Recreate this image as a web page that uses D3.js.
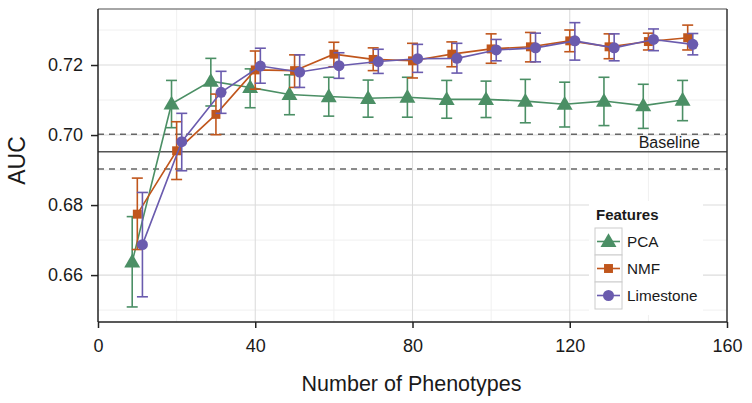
<!DOCTYPE html>
<html><head><meta charset="utf-8">
<script src="https://cdn.jsdelivr.net/npm/d3@7"></script>
<style>body{margin:0;background:#fff}svg{display:block;font-family:"Liberation Sans",Arial,sans-serif}</style>
</head><body><svg id="c" width="752" height="403"></svg>
<script>
const phenotypes = [10,20,30,40,50,60,70,80,90,100,110,120,130,140,150];
const pcaMean  = [0.6638,0.7089,0.7154,0.7136,0.7116,0.7110,0.7105,0.7108,0.7102,0.7102,0.7097,0.7088,0.7097,0.7084,0.7100];
const pcaLo    = [0.6509,0.7021,0.7083,0.7078,0.7058,0.7054,0.7051,0.7051,0.7048,0.7050,0.7035,0.7023,0.7027,0.7019,0.7041];
const pcaHi    = [0.6767,0.7156,0.7219,0.7189,0.7172,0.7165,0.7157,0.7165,0.7156,0.7154,0.7159,0.7151,0.7165,0.7145,0.7156];
const nmfMean  = [0.6774,0.6955,0.7059,0.7186,0.7184,0.7231,0.7216,0.7212,0.7231,0.7246,0.7252,0.7269,0.7252,0.7267,0.7278];
const nmfLo    = [0.6673,0.6873,0.7001,0.7131,0.7136,0.7195,0.7184,0.7163,0.7195,0.7205,0.7209,0.7238,0.7218,0.7243,0.7243];
const nmfHi    = [0.6877,0.7038,0.7117,0.7240,0.7229,0.7265,0.7249,0.7262,0.7266,0.7289,0.7293,0.7300,0.7289,0.7291,0.7314];
const limeMean = [0.6687,0.6981,0.7122,0.7197,0.7180,0.7198,0.7210,0.7218,0.7219,0.7243,0.7249,0.7269,0.7249,0.7273,0.7259];
const limeLo   = [0.6538,0.6898,0.7062,0.7148,0.7136,0.7162,0.7176,0.7179,0.7177,0.7212,0.7209,0.7214,0.7212,0.7241,0.7229];
const limeHi   = [0.6836,0.7062,0.7182,0.7248,0.7229,0.7235,0.7245,0.7259,0.7262,0.7273,0.7291,0.7321,0.7289,0.7303,0.7290];
const baseline = 0.6952, baselineLo = 0.6903, baselineHi = 0.7002;
const xTicks = [0,40,80,120,160];
const yTicks = [0.66,0.68,0.70,0.72];
const seriesNames = ["PCA","NMF","Limestone"];

const series = [
  {name:"PCA", mean:pcaMean, lo:pcaLo, hi:pcaHi, color:"#4b8f65", shape:d3.symbolTriangle, size:110, dodge:-1.3},
  {name:"NMF", mean:nmfMean, lo:nmfLo, hi:nmfHi, color:"#c0561c", shape:d3.symbolSquare, size:80, dodge:0},
  {name:"Limestone", mean:limeMean, lo:limeLo, hi:limeHi, color:"#6a5bae", shape:d3.symbolCircle, size:95, dodge:1.3}
];

const svg = d3.select("#c");
const L=98, R=727, T=9, B=322;
const x = d3.scaleLinear().domain([0,160]).range([L,R]);
const y = d3.scaleLinear().domain([0.6466,0.736]).range([B,T]);

const g = svg.append("g");
// minor grid
[20,60,100,140].forEach(v=>g.append("line").attr("x1",x(v)).attr("x2",x(v)).attr("y1",T).attr("y2",B).attr("stroke","#f0f0f0").attr("stroke-width",1));
[0.65,0.67,0.69,0.71,0.73].forEach(v=>g.append("line").attr("x1",L).attr("x2",R).attr("y1",y(v)).attr("y2",y(v)).attr("stroke","#f0f0f0").attr("stroke-width",1));
// major grid
xTicks.slice(1,-1).forEach(v=>g.append("line").attr("x1",x(v)).attr("x2",x(v)).attr("y1",T).attr("y2",B).attr("stroke","#dcdcdc").attr("stroke-width",1.1));
yTicks.forEach(v=>g.append("line").attr("x1",L).attr("x2",R).attr("y1",y(v)).attr("y2",y(v)).attr("stroke","#dcdcdc").attr("stroke-width",1.1));

// baseline
g.append("line").attr("x1",L).attr("x2",R).attr("y1",y(baseline)).attr("y2",y(baseline)).attr("stroke","#555").attr("stroke-width",1.5);
[baselineLo,baselineHi].forEach(v=>g.append("line").attr("x1",L).attr("x2",R).attr("y1",y(v)).attr("y2",y(v)).attr("stroke","#666").attr("stroke-width",1.5).attr("stroke-dasharray","6,5"));
g.append("text").attr("x",700).attr("y",y(baseline)-3.5).attr("text-anchor","end").attr("font-size",16).attr("fill","#1a1a1a").text("Baseline");

// series
series.forEach(s=>{
  const pts = phenotypes.map((p,i)=>({x:p+s.dodge, m:s.mean[i], lo:s.lo[i], hi:s.hi[i]}));
  const sg = g.append("g");
  sg.append("path").datum(pts).attr("fill","none").attr("stroke",s.color).attr("stroke-width",1.6)
    .attr("d",d3.line().x(d=>x(d.x)).y(d=>y(d.m)));
  pts.forEach(d=>{
    const cx=x(d.x);
    sg.append("line").attr("x1",cx).attr("x2",cx).attr("y1",y(d.lo)).attr("y2",y(d.hi)).attr("stroke",s.color).attr("stroke-width",1.6);
    [d.lo,d.hi].forEach(v=>sg.append("line").attr("x1",cx-5.5).attr("x2",cx+5.5).attr("y1",y(v)).attr("y2",y(v)).attr("stroke",s.color).attr("stroke-width",1.6));
  });
  sg.selectAll("path.m").data(pts).enter().append("path").attr("class","m")
    .attr("transform",d=>`translate(${x(d.x)},${y(d.m)+(s.name==="PCA"?1:0)})`)
    .attr("d",d3.symbol().type(s.shape).size(s.size)).attr("fill",s.color);
});

// panel border
g.append("line").attr("x1",L).attr("x2",R).attr("y1",T).attr("y2",T).attr("stroke","#888").attr("stroke-width",1.5);
g.append("line").attr("x1",R).attr("x2",R).attr("y1",T).attr("y2",B).attr("stroke","#333").attr("stroke-width",1.5);

// axes
const xa = svg.append("g").attr("transform",`translate(0,${B})`)
  .call(d3.axisBottom(x).tickValues(xTicks).tickSize(6).tickPadding(11).tickFormat(d3.format("d")));
const ya = svg.append("g").attr("transform",`translate(${L},0)`)
  .call(d3.axisLeft(y).tickValues(yTicks).tickSize(7).tickPadding(8).tickFormat(d3.format(".2f")));
[xa,ya].forEach(a=>{
  a.select(".domain").attr("stroke","#222").attr("stroke-width",1.5);
  a.selectAll(".tick line").attr("stroke","#222").attr("stroke-width",1.5);
  a.selectAll(".tick text").attr("font-size",18).attr("fill","#1a1a1a").attr("font-family","Liberation Sans, Arial, sans-serif");
});
xa.select(".domain").attr("d",`M${L},0H${R}`);
ya.select(".domain").attr("d",`M0,${B}V${T}`);

svg.append("text").attr("x",(L+R)/2-1).attr("y",391).attr("text-anchor","middle").attr("font-size",21.5).attr("fill","#1a1a1a").text("Number of Phenotypes");
svg.append("text").attr("transform",`translate(25,${(T+B)/2-5}) rotate(-90)`).attr("text-anchor","middle").attr("font-size",23).attr("fill","#1a1a1a").text("AUC");

// legend
const lg = svg.append("g");
lg.append("rect").attr("x",589).attr("y",201).attr("width",114).attr("height",114).attr("fill","#fff");
lg.append("text").attr("x",596).attr("y",220).attr("font-size",15).attr("font-weight","bold").attr("fill","#1a1a1a").text("Features");
series.forEach((s,i)=>{
  const ky = 228 + i*27;
  lg.append("rect").attr("x",595).attr("y",ky).attr("width",27).attr("height",27).attr("fill","#fff").attr("stroke","#ccc").attr("stroke-width",1);
  lg.append("line").attr("x1",597).attr("x2",620).attr("y1",ky+13.5).attr("y2",ky+13.5).attr("stroke",s.color).attr("stroke-width",1.6);
  lg.append("path").attr("transform",`translate(608.5,${ky+13.5+(s.name==="PCA"?1:0)})`).attr("d",d3.symbol().type(s.shape).size(s.size)).attr("fill",s.color);
  lg.append("text").attr("x",627).attr("y",ky+19).attr("font-size",15.3).attr("fill","#1a1a1a").text(seriesNames[i]);
});
</script></body></html>
